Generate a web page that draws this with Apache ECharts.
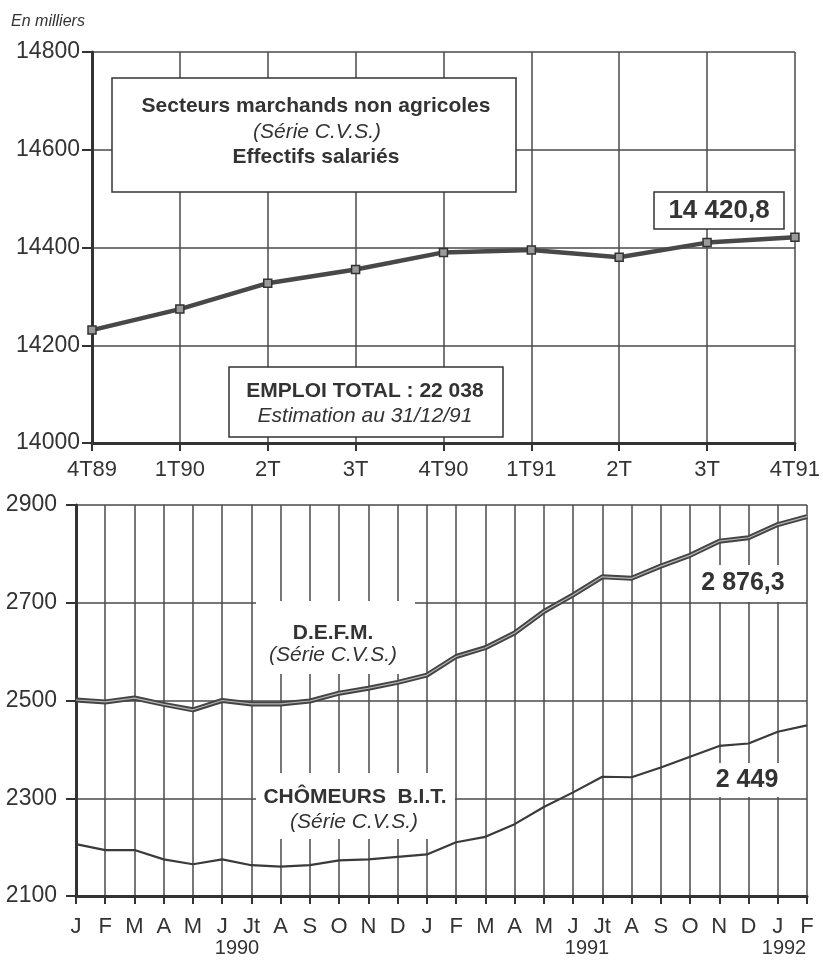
<!DOCTYPE html>
<html>
<head>
<meta charset="utf-8">
<script src="https://cdn.jsdelivr.net/npm/echarts@6/dist/echarts.min.js"></script>
<style>
  html, body { margin: 0; padding: 0; background: #fff; }
  #chart { width: 823px; height: 961px; }
</style>
</head>
<body>
<div id="chart"></div>
<script>
// données
const quarters = ["4T89", "1T90", "2T", "3T", "4T90", "1T91", "2T", "3T", "4T91"];
const effectifs = [14231, 14274, 14327, 14355, 14390, 14395, 14380, 14410, 14420.8];

const months = ["J", "F", "M", "A", "M", "J", "Jt", "A", "S", "O", "N", "D",
  "J", "F", "M", "A", "M", "J", "Jt", "A", "S", "O", "N", "D", "J", "F"];
const defm = [2501, 2497, 2505, 2492, 2481, 2500, 2493, 2493, 2499, 2515, 2525, 2537,
  2552, 2590, 2608, 2638, 2682, 2716, 2753, 2750, 2775, 2797, 2826, 2833, 2860, 2876.3];
const bit = [2206, 2194, 2194, 2175, 2165, 2175, 2163, 2160, 2163, 2173, 2175, 2180,
  2185, 2210, 2221, 2247, 2282, 2312, 2344, 2343, 2363, 2385, 2407, 2412, 2436, 2449];

const ink = "#333";
const gridInk = "#4a4a4a";
const font = "Liberation Sans, Arial, sans-serif";

let myChart = echarts.init(document.getElementById("chart"));

// axe x commun
function xAxisOf(idx, data, margin) {
  return {
    type: "category",
    gridIndex: idx,
    data: data,
    boundaryGap: false,
    axisLine: { lineStyle: { color: ink, width: 3 } },
    axisTick: { show: true, length: 8, interval: 0, lineStyle: { color: ink, width: 2 } },
    axisLabel: { interval: 0, color: ink, fontSize: 22, fontFamily: font, margin: margin },
    splitLine: { show: true, interval: 0, lineStyle: { color: gridInk, width: 1.5 } },
  };
}
function yAxisOf(idx, min, max, margin) {
  return {
    type: "value",
    gridIndex: idx,
    min: min,
    max: max,
    interval: 200,
    axisLine: { show: true, lineStyle: { color: ink, width: 3 } },
    axisTick: { show: true, length: 10, lineStyle: { color: ink, width: 2 } },
    axisLabel: {
      color: ink, fontSize: 23, fontFamily: font, margin: margin,
      formatter: function (v) { return String(v); }, // pas de séparateur
    },
    splitLine: { show: true, lineStyle: { color: gridInk, width: 1.5 } },
  };
}

// petits textes sur fond blanc
function txt(text, x, y, size, weight, style) {
  return {
    type: "text",
    z: 20,
    style: {
      text: text, x: x, y: y,
      font: (style || "normal") + " " + (weight || "normal") + " " + size + "px " + font,
      fill: ink, textAlign: "center", textVerticalAlign: "middle",
    },
  };
}
function box(x, y, w, h, border) {
  return {
    type: "rect",
    z: 15,
    shape: { x: x, y: y, width: w, height: h },
    style: { fill: "#fff", stroke: border ? ink : null, lineWidth: border ? 1.5 : 0 },
  };
}

let option = {
  animation: false,
  backgroundColor: "#fff",
  grid: [
    { left: 92, right: 23, top: 52, height: 391 },
    { left: 76, right: 16, top: 505, height: 391 },
  ],
  xAxis: [xAxisOf(0, quarters, 16), xAxisOf(1, months, 20)],
  yAxis: [yAxisOf(0, 14000, 14800, 12), yAxisOf(1, 2100, 2900, 19)],
  series: [
    {
      name: "Effectifs salariés",
      type: "line",
      xAxisIndex: 0,
      yAxisIndex: 0,
      data: effectifs,
      symbol: "rect",
      symbolSize: 8,
      lineStyle: { color: "#484848", width: 4.5 },
      itemStyle: { color: "#9a9a9a", borderColor: "#333", borderWidth: 1.5 },
      z: 5,
    },
    {
      name: "D.E.F.M.",
      type: "line",
      xAxisIndex: 1,
      yAxisIndex: 1,
      data: defm,
      symbol: "none",
      lineStyle: { color: "#444", width: 5 },
      z: 5,
    },
    {
      // trait clair au centre (double trait)
      name: "D.E.F.M. centre",
      type: "line",
      xAxisIndex: 1,
      yAxisIndex: 1,
      data: defm,
      symbol: "none",
      lineStyle: { color: "#b5b5b5", width: 1.2 },
      z: 6,
    },
    {
      name: "Chômeurs B.I.T.",
      type: "line",
      xAxisIndex: 1,
      yAxisIndex: 1,
      data: bit,
      symbol: "none",
      lineStyle: { color: "#3a3a3a", width: 2.2 },
      z: 5,
    },
  ],
  graphic: [
    txt("En milliers", 48, 22, 16, "normal", "italic"),
    // encadrés du haut
    box(112, 78, 404, 114, true),
    txt("Secteurs marchands non agricoles", 316, 106, 21, "bold"),
    txt("(Série C.V.S.)", 317, 132, 21, "normal", "italic"),
    txt("Effectifs salariés", 316, 157, 21, "bold"),
    box(229, 367, 274, 70, true),
    txt("EMPLOI TOTAL : 22 038", 365, 391, 21, "bold"),
    txt("Estimation au 31/12/91", 365, 416, 21, "normal", "italic"),
    box(654, 192, 130, 37, true),
    txt("14 420,8", 719, 211, 26, "bold"),
    // libellés du bas
    box(256, 601, 159, 73, false),
    txt("D.E.F.M.", 333, 633, 21, "bold"),
    txt("(Série C.V.S.)", 333, 655, 21, "normal", "italic"),
    box(256, 773, 199, 66, false),
    txt("CHÔMEURS  B.I.T.", 355, 797, 21, "bold"),
    txt("(Série C.V.S.)", 354, 822, 21, "normal", "italic"),
    box(697, 565, 95, 37, false),
    txt("2 876,3", 743, 583, 25, "bold"),
    box(705, 763, 85, 34, false),
    txt("2 449", 747, 780, 25, "bold"),
    // années
    txt("1990", 237, 948, 20),
    txt("1991", 587, 948, 20),
    txt("1992", 784, 948, 20),
  ],
};
myChart.setOption(option);
</script>
</body>
</html>
